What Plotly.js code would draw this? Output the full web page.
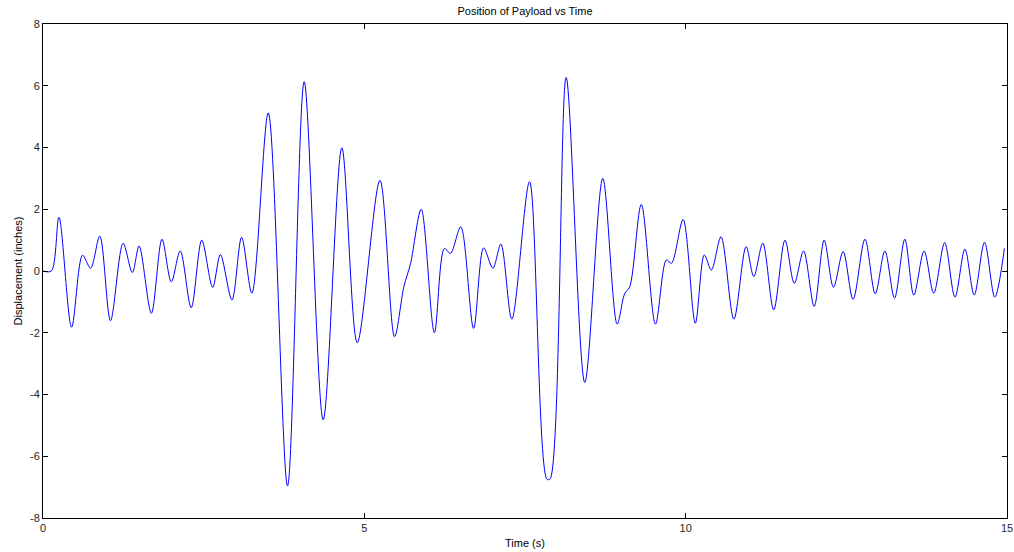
<!DOCTYPE html>
<html>
<head>
<meta charset="utf-8">
<script src="https://cdn.plot.ly/plotly-3.0.1.min.js"></script>
<style>html,body{margin:0;padding:0;background:#fff;}#chart{width:1014px;height:552px;}</style>
</head>
<body>
<div id="chart"></div>
<script>
// Time (s) of sampled turning points and shoulders of the trace
const timeS = [0, 0.13, 0.248, 0.445, 0.615, 0.74, 0.884, 1.05, 1.246, 1.39, 1.495, 1.686, 1.851, 1.996, 2.135, 2.306, 2.47, 2.64, 2.76, 2.94, 3.09, 3.25, 3.505, 3.805, 4.064, 4.36, 4.65, 4.89, 5.243, 5.47, 5.615, 5.72, 5.885, 6.09, 6.245, 6.34, 6.50, 6.70, 6.856, 7.0, 7.125, 7.295, 7.57, 7.84, 7.89, 8.14, 8.43, 8.71, 8.934, 9.05, 9.13, 9.31, 9.53, 9.70, 9.78, 9.96, 10.15, 10.29, 10.40, 10.55, 10.75, 10.94, 11.06, 11.2, 11.37, 11.545, 11.69, 11.835, 12.0, 12.155, 12.30, 12.45, 12.605, 12.79, 12.95, 13.10, 13.25, 13.41, 13.55, 13.71, 13.86, 14.03, 14.19, 14.345, 14.49, 14.65, 14.81, 14.96];
// Displacement (inches)
const displacement = [0, 0, 1.74, -1.82, 0.51, 0.09, 1.13, -1.61, 0.9, -0.05, 0.81, -1.37, 1.03, -0.35, 0.65, -1.19, 1.0, -0.53, 0.53, -0.94, 1.09, -0.72, 5.12, -6.96, 6.13, -4.82, 3.99, -2.32, 2.94, -2.13, -0.51, 0.25, 2.0, -2.0, 0.73, 0.57, 1.43, -1.86, 0.75, 0.09, 0.87, -1.56, 2.89, -6.74, -6.74, 6.27, -3.61, 3.0, -1.72, -0.74, -0.51, 2.16, -1.72, 0.36, 0.25, 1.67, -1.69, 0.52, 0.03, 1.11, -1.56, 0.79, -0.18, 0.9, -1.26, 1.0, -0.4, 0.65, -1.15, 1.0, -0.53, 0.63, -0.92, 1.03, -0.74, 0.65, -0.88, 1.03, -0.78, 0.65, -0.72, 0.92, -0.85, 0.71, -0.78, 0.93, -0.85, 0.73];

const xTickVals = [0, 5, 10, 15];
const xTickText = ['0', '5', '10', '15'];
const yTickVals = [-8, -6, -4, -2, 0, 2, 4, 6, 8];
const yTickText = ['-8', '-6', '-4', '-2', '0', '2', '4', '6', '8'];

const fontFam = 'Liberation Sans, Arial, Helvetica, sans-serif';

const trace = {
  x: timeS,
  y: displacement,
  type: 'scatter',
  mode: 'lines',
  line: {color: '#0000ff', width: 1, shape: 'spline', smoothing: 0.9},
  hoverinfo: 'x+y'
};

const axisCommon = {
  showline: true, linecolor: '#000', linewidth: 1, mirror: 'ticks',
  ticks: 'inside', ticklen: 5, tickcolor: '#000', tickwidth: 1,
  showgrid: false, zeroline: false,
  tickfont: {family: fontFam, size: 11, color: '#262626'},
  tickmode: 'array', automargin: false
};

const layout = {
  width: 1014, height: 552,
  margin: {l: 43, r: 7, t: 24, b: 34},
  paper_bgcolor: '#fff', plot_bgcolor: '#fff',
  showlegend: false,
  title: {text: 'Position of Payload vs Time', font: {family: fontFam, size: 11, color: '#000'},
          x: 0.5, xref: 'paper', y: 1 - 11/552, yref: 'container', yanchor: 'middle'},
  xaxis: Object.assign({}, axisCommon, {
    range: [0, 15], tickvals: xTickVals, ticktext: xTickText,
    title: {text: 'Time (s)', font: {family: fontFam, size: 11, color: '#000'}, standoff: 6}
  }),
  yaxis: Object.assign({}, axisCommon, {
    range: [-8, 8], tickvals: yTickVals, ticktext: yTickText,
    title: {text: 'Displacement (inches)', font: {family: fontFam, size: 11, color: '#000'}, standoff: 5}
  })
};

Plotly.newPlot('chart', [trace], layout, {staticPlot: true, displayModeBar: false});
</script>
</body>
</html>
